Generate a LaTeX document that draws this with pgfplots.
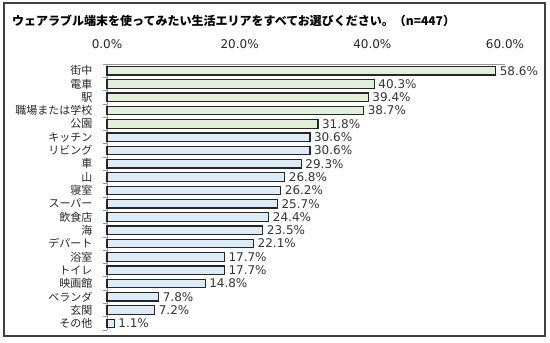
\documentclass[border=0pt]{standalone}
\usepackage{pgfplots}
\pgfplotsset{compat=1.18}
\usepackage{fontspec}
\setmainfont{DejaVu Sans}
\newfontfamily\jp{Noto Sans CJK JP}
\definecolor{barGreen}{RGB}{226,240,217}
\definecolor{barBlue}{RGB}{221,235,247}
\definecolor{edge}{RGB}{38,38,38}
\definecolor{axisgray}{RGB}{150,150,150}
\definecolor{frame}{RGB}{64,64,64}
\begin{document}
\begin{tikzpicture}
\path (0bp,0bp) rectangle (550bp,-343bp);
\draw[frame, line width=1.6bp] (4bp,-3bp) rectangle (545bp,-336bp);
\node[anchor=west, inner sep=0pt] at (12bp,-21bp) {\jp\bfseries\fontsize{12bp}{14bp}\selectfont ウェアラブル端末を使ってみたい生活エリアをすべてお選びください。（n=447）};
\begin{axis}[
  at={(107bp,-330bp)}, anchor=south west,
  scale only axis, width=398bp, height=266bp,
  xbar, bar shift=0pt, bar width=8.5bp,
  xmin=0, xmax=60, ymin=-0.5, ymax=19.5,
  axis x line*=top, axis y line*=left,
  axis line style={axisgray, line width=0.8bp},
  xtick={0,20,40,60},
  xticklabels={0.0\%,20.0\%,40.0\%,60.0\%},
  major tick length=0pt,
  xticklabel style={font=\fontsize{12bp}{14bp}\selectfont, color=black!85, yshift=12bp},
  ytick={0,...,19},
  yticklabels={その他,玄関,ベランダ,映画館,トイレ,浴室,デパート,海,飲食店,スーパー,寝室,山,車,リビング,キッチン,公園,職場または学校,駅,電車,街中},
  yticklabel style={font=\jp\fontsize{11bp}{13bp}\selectfont, color=black!85, xshift=-11bp},
  minor ytick={-0.5,0.5,...,19.5},
  minor tick length=3.5bp,
  tick align=outside,
  tick style={axisgray, line width=0.8bp},
  /pgf/number format/assume math mode=true,
  point meta=x,
  nodes near coords={\pgfmathprintnumber[fixed,fixed zerofill,precision=1,assume math mode=true]{\pgfplotspointmeta}\%},
  nodes near coords style={font=\fontsize{12bp}{14bp}\selectfont, color=black!80, inner sep=3.5bp},
  clip=false,
]
\addplot[fill=barGreen, draw=edge, line width=1.2bp] coordinates {
 (58.6,19) (40.3,18) (39.4,17) (38.7,16) (31.8,15)
};
\addplot[fill=barBlue, draw=edge, line width=1.2bp] coordinates {
 (30.6,14) (30.6,13) (29.3,12) (26.8,11) (26.2,10) (25.7,9) (24.4,8) (23.5,7) (22.1,6) (17.7,5) (17.7,4) (14.8,3) (7.8,2) (7.2,1) (1.1,0)
};
\end{axis}
\end{tikzpicture}
\end{document}
